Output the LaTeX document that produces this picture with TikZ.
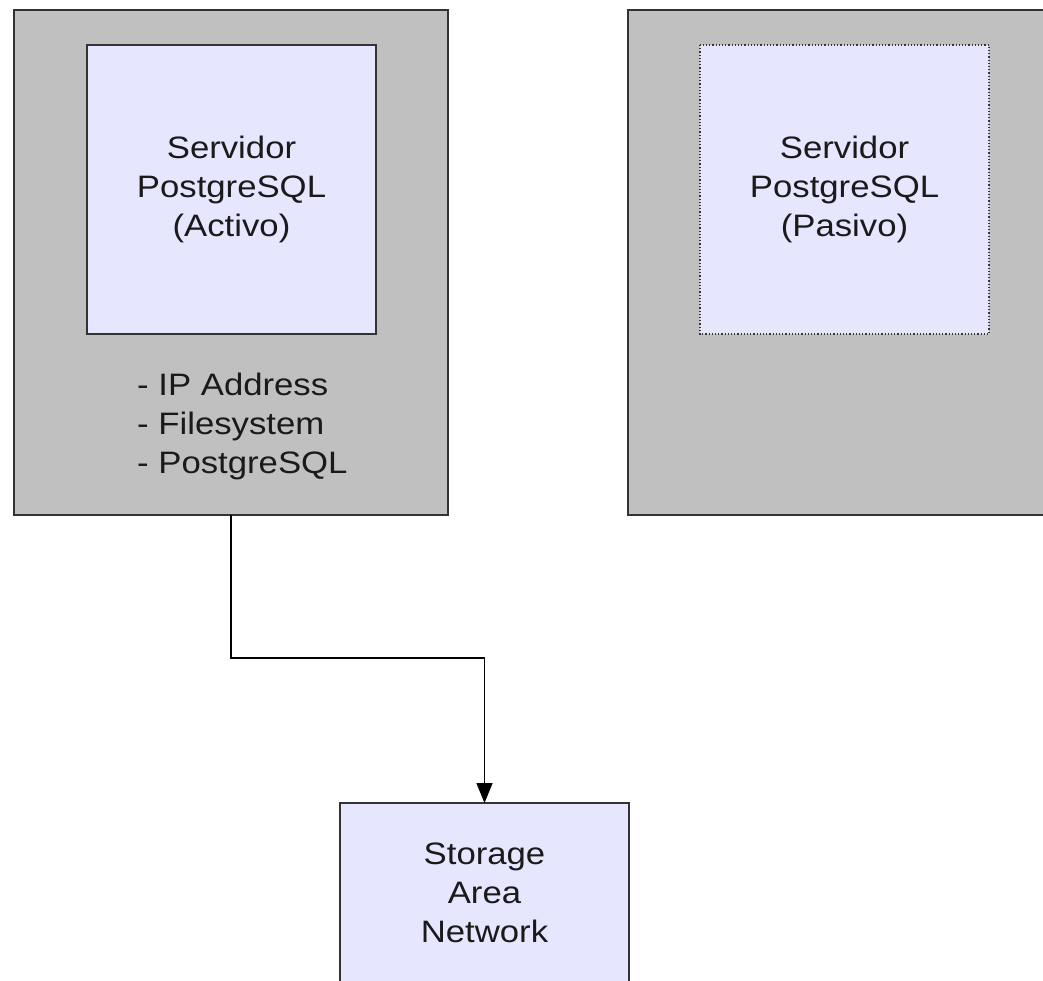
\documentclass[tikz,border=0pt]{standalone}
\usepackage{fontspec}
\setmainfont[FakeStretch=1.12]{Liberation Sans}
\usetikzlibrary{arrows.meta,positioning}
\definecolor{boxgray}{HTML}{C0C0C0}
\definecolor{lav}{HTML}{E6E6FF}
\definecolor{edge}{HTML}{333333}
\definecolor{txt}{HTML}{1A1A1A}
\tikzset{
  outerbox/.style={draw=edge, fill=boxgray, line width=1.5pt, rectangle, inner sep=0pt, outer sep=0pt},
  innerbox/.style={draw=edge, fill=lav, line width=1.2pt, rectangle, inner sep=0pt, outer sep=0pt,
     minimum width=289pt, minimum height=289pt, align=center, text=txt,
     font=\fontsize{31}{39}\selectfont},
  label text/.style={align=left, text=txt, font=\fontsize{31}{39}\selectfont, inner sep=0pt},
  conn/.style={draw=black, line width=1.5pt, -{Triangle[length=20pt,width=16pt]}}
}
\begin{document}
\begin{tikzpicture}[x=1pt,y=-1pt]
\useasboundingbox (0,0) rectangle (1043,981);
\fill[white] (0,0) rectangle (1043,981);
% outer boxes
\node[outerbox, minimum width=434pt, minimum height=505pt, anchor=north west] (act) at (14,10) {};
\node[outerbox, minimum width=420pt, minimum height=505pt, anchor=north west] (pas) at (628,10) {};
% inner boxes
\node[innerbox, anchor=north west] (actin) at (87,45) {Servidor\\PostgreSQL\\(Activo)};
\node[innerbox, draw=none, anchor=north west] (pasin) at (700,45) {Servidor\\PostgreSQL\\(Pasivo)};
\draw[edge, line width=1.2pt, dotted] (pasin.north west) rectangle (pasin.south east);
% list
\node[label text, anchor=base west] (list) at (137,473) {- IP Address\\- Filesystem\\- PostgreSQL};
% SAN
\node[innerbox, minimum width=289pt, minimum height=180pt, anchor=north west] (san) at (340,803) {Storage\\Area\\Network};
% connector
\coordinate (mid) at (300,658);
\draw[conn] (act.south) |- (mid) -| (san.north);
\end{tikzpicture}
\end{document}
